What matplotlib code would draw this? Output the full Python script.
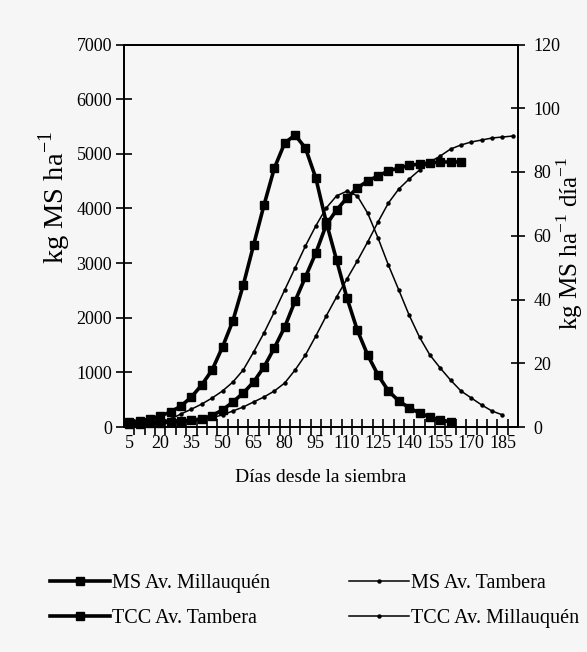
import matplotlib
matplotlib.use('Agg')
import matplotlib.pyplot as plt
import numpy as np

plt.rcParams['font.family'] = ['Liberation Serif', 'DejaVu Serif']
plt.rcParams['mathtext.fontset'] = 'custom'
plt.rcParams['mathtext.rm'] = 'Liberation Serif'

# days after sowing (category axis, every 5 days)
days_all = list(range(5, 195, 5))
tick_days = list(range(5, 190, 15))

# MS Av. Millauquen (kg MS/ha, left axis) - thick, squares
ms_millauquen = [55, 64, 73, 82, 92, 110, 128, 146, 210, 311, 458, 622, 824, 1098,
                 1446, 1830, 2306, 2745, 3184, 3697, 3971, 4191, 4374, 4502, 4593,
                 4685, 4740, 4786, 4813, 4831, 4850, 4850, 4850]

# TCC Av. Tambera (kg MS/ha/dia, right axis) - thick, squares
tcc_tambera = [1.6, 1.9, 2.5, 3.5, 4.7, 6.6, 9.4, 13.2, 17.9, 25.1, 33.3, 44.5, 57.1,
               69.6, 81.2, 89.1, 91.6, 87.5, 78.1, 64.3, 52.4, 40.5, 30.4, 22.6, 16.3,
               11.3, 8.2, 6.0, 4.4, 3.1, 2.2, 1.6]

# MS Av. Tambera (left axis) - thin, dots
ms_tambera = [27, 37, 46, 55, 73, 92, 110, 137, 174, 220, 293, 366, 458, 549, 659, 805,
              1043, 1318, 1665, 2031, 2379, 2708, 3038, 3386, 3752, 4099, 4355, 4538,
              4703, 4850, 4959, 5087, 5161, 5216, 5252, 5289, 5307, 5325]

# TCC Av. Millauquen (right axis) - thin, dots
tcc_millauquen = [0.5, 0.6, 0.9, 1.6, 2.5, 4.1, 5.6, 7.2, 9.1, 11.3, 14.1, 17.9, 23.5,
                  29.5, 36.1, 43.0, 49.9, 56.8, 63.1, 68.7, 72.5, 74.0, 72.5, 67.1, 59.3,
                  50.8, 43.0, 35.1, 28.2, 22.6, 18.5, 14.7, 11.3, 9.1, 6.9, 5.0, 3.8]

bg = '#f6f6f6'
fig = plt.figure(figsize=(5.87, 6.52), dpi=100, facecolor=bg)
ax = fig.add_axes([124/587, 1-427/652, 394/587, 382.5/652], facecolor=bg)
ax2 = ax.twinx()

thick = dict(color='black', lw=2.6, marker='s', ms=5.8, mfc='black', mec='black')
thin = dict(color='black', lw=1.1, marker='o', ms=2.2, mfc='black', mec='black')

l1, = ax.plot(days_all[:len(ms_millauquen)], ms_millauquen, label='MS Av. Millauquén', **thick)
l3, = ax.plot(days_all[:len(ms_tambera)], ms_tambera, label='MS Av. Tambera', **thin)
l2, = ax2.plot(days_all[:len(tcc_tambera)], tcc_tambera, label='TCC Av. Tambera', **thick)
l4, = ax2.plot(days_all[:len(tcc_millauquen)], tcc_millauquen, label='TCC Av. Millauquén', **thin)
for l in (l1, l2, l3, l4):
    l.set_clip_on(False)

ax.set_xlim(2.5, 192.5)
ax.set_ylim(0, 7000)
ax2.set_ylim(0, 120)
ax.set_yticks(range(0, 7001, 1000))
ax2.set_yticks(range(0, 121, 20))

ax.set_xticks(tick_days)
ax.set_xticklabels([str(d) for d in tick_days])
ax.set_xticks(np.arange(7.5, 192.5, 5), minor=True)
ax.tick_params(axis='x', which='major', length=0, pad=6, labelsize=13)
ax.tick_params(axis='x', which='minor', direction='inout', length=11, width=1.2)
ax.tick_params(axis='y', direction='inout', length=11, width=1.2, pad=3, labelsize=13)
ax2.tick_params(axis='y', direction='inout', length=10, width=1.2, pad=6, labelsize=13)

for a in (ax, ax2):
    for s in a.spines.values():
        s.set_linewidth(1.3)

fig.text(55/587, 1-197/652, r'kg MS ha$^{-1}$', rotation=90, ha='center', va='center', fontsize=20.5)
fig.text(570/587, 1-243/652, r'kg MS ha$^{-1}$ día$^{-1}$', rotation=90, ha='center', va='center', fontsize=18)
fig.text(321/587, 1-478/652, 'Días desde la siembra', ha='center', va='center', fontsize=14)

fig.legend(handles=[l1, l2, l3, l4], loc='upper left', bbox_to_anchor=(50/587, 1-574/652),
           ncol=2, frameon=False, fontsize=14.5, handlelength=3.0, handletextpad=0.1,
           columnspacing=3.9, labelspacing=0.8, borderpad=0, borderaxespad=0, numpoints=1)

fig.savefig('out.png', dpi=100, facecolor=bg)
